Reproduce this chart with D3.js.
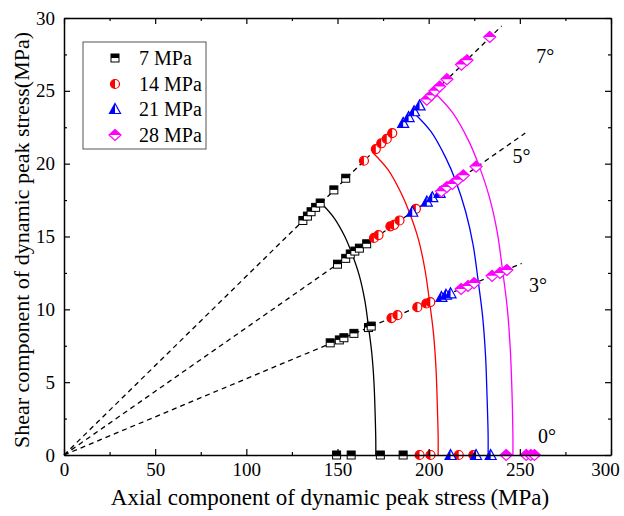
<!DOCTYPE html>
<html><head><meta charset="utf-8">
<script src="https://cdn.jsdelivr.net/npm/d3@7"></script>
<style>body{margin:0;background:#fff}svg{display:block}text{font-family:"Liberation Serif","Times New Roman",serif}</style>
</head><body><svg id="c" width="624" height="516"></svg>
<script>
// ---- data (axial MPa, shear MPa) ----
const seriesNames = ["7 MPa","14 MPa","21 MPa","28 MPa"];
const seriesColors = ["#000000","#ff0000","#0000ff","#ff00ff"];
const pts7 = [[131,16.1],[133.5,16.4],[135.5,16.7],[138,17.0],[140.5,17.3],[148,18.2],[154.5,19.0],
  [150,13.1],[154.5,13.5],[157,13.8],[159.5,14.0],[162,14.2],[166,14.5],
  [146,7.7],[151,7.9],[153.5,8.05],[159,8.35],[167,8.75],[168.5,8.85],
  [149.5,0],[157.5,0],[173.5,0],[186,0]];
const pts14 = [[164.5,20.2],[171,21.0],[174,21.4],[177,21.7],[180,22.1],
  [170,14.9],[172.5,15.1],[179,15.7],[181,15.8],[184,16.1],[193,16.9],
  [179.6,9.4],[182.9,9.6],[193.8,10.15],[198.7,10.4],[200.9,10.5],
  [195,0],[201,0],[216.5,0],[224.5,0]];
const pts21 = [[186,22.8],[189,23.2],[192,23.6],[195,24.0],
  [191,16.7],[199,17.4],[202,17.7],[206,18.0],
  [207,10.85],[209.5,11.0],[212,11.1],
  [212,0],[226,0],[234,0]];
const pts28 = [[199,24.4],[201.5,24.7],[203.5,25.0],[206,25.3],[210,25.8],[218,26.8],[221,27.1],[233.5,28.7],
  [207,18.1],[210,18.4],[213,18.6],[216,18.9],[219,19.2],[226,19.8],
  [217.8,11.4],[221.6,11.6],[224.9,11.8],[234.8,12.3],[239.1,12.5],[242.9,12.7],
  [242.5,0],[253.5,0],[256,0],[258,0]];
const curve7 = [[141,17.3],[148,16.3],[154,15.0],[158,13.8],[162,12.3],[165,10.6],[167,8.8],[168.8,7.0],[170,5.0],[170.6,3.0],[171,1.0],[171,0]];
const curve14 = [[169,20.8],[177.6,19.6],[184.8,18.0],[189.6,16.6],[194.4,14.8],[198,12.7],[200.4,10.6],[202.6,8.4],[204,6.0],[204.7,3.6],[205.2,1.2],[205.2,0]];
const curve21 = [[191.8,23.5],[201.3,22.2],[209.4,20.4],[214.9,18.8],[220.3,16.7],[224.4,14.4],[227.1,12.0],[229.6,9.5],[231.2,6.8],[232,4.1],[232.6,1.4],[232.6,0]];
const curve28 = [[203,24.9],[213.1,23.5],[221.8,21.6],[227.5,19.9],[233.3,17.7],[237.6,15.3],[240.5,12.7],[243.1,10.1],[244.8,7.2],[245.7,4.3],[246.2,1.4],[246.2,0]];
const rayLabels = ["3°","5°","7°"];
const rayEnds = [[251,13.15],[253,22.1],[240,29.45]];
const angleLabels = ["7°","5°","3°","0°"];
const angleLabelPos = [[259,27.4],[246,20.5],[255,11.7],[260,1.3]];
const xTicks = [0,25,50,75,100,125,150,175,200,225,250,275,300];
const yTicks = [0,2.5,5,7.5,10,12.5,15,17.5,20,22.5,25,27.5,30];

const svg = d3.select("#c");
const x = d3.scaleLinear().domain([0,300]).range([64,611]);
const y = d3.scaleLinear().domain([0,30]).range([455,18]);

// rays
const line = d3.line().x(d=>x(d[0])).y(d=>y(d[1]));
svg.append("g").selectAll("path").data(rayEnds).join("path")
  .attr("d", d=>line([[0,0],d])).attr("fill","none").attr("stroke","#000")
  .attr("stroke-width",1.3).attr("stroke-dasharray","5,4");

// curves
const curveLine = d3.line().x(d=>x(d[0])).y(d=>y(d[1])).curve(d3.curveCatmullRom);
[curve7,curve14,curve21,curve28].forEach((c,i)=>{
  svg.append("path").attr("d",curveLine(c)).attr("fill","none")
    .attr("stroke",seriesColors[i]).attr("stroke-width",1.3);
});

// markers
function marker(g, type, color){
  if(type===0){
    g.append("rect").attr("x",-4).attr("y",-4).attr("width",8).attr("height",8).attr("fill","#fff").attr("stroke",color).attr("stroke-width",1);
    g.append("rect").attr("x",-4).attr("y",-4).attr("width",8).attr("height",4).attr("fill",color);
  } else if(type===1){
    const r=4.5;
    g.append("circle").attr("r",r).attr("fill","#fff").attr("stroke",color).attr("stroke-width",1.2);
    g.append("path").attr("d",`M0,${-r}A${r},${r} 0 0 0 0,${r}Z`).attr("fill",color);
  } else if(type===2){
    g.append("path").attr("d","M0,-5.5L5.5,4.5L-5.5,4.5Z").attr("fill","#fff").attr("stroke",color).attr("stroke-width",1.2);
    g.append("path").attr("d","M0,-5.5L0,4.5L-5.5,4.5Z").attr("fill",color);
  } else {
    g.append("path").attr("d","M0,-5.5L6,0L0,5.5L-6,0Z").attr("fill","#fff").attr("stroke",color).attr("stroke-width",1.2);
    g.append("path").attr("d","M-6,0L0,-5.5L6,0Z").attr("fill",color);
  }
}
[pts7,pts14,pts21,pts28].forEach((pts,i)=>{
  svg.append("g").selectAll("g").data(pts).join("g")
    .attr("transform",d=>`translate(${x(d[0])},${y(d[1])})`)
    .each(function(){ marker(d3.select(this), i, seriesColors[i]); });
});

// axes
function styleAxis(g){
  g.select(".domain").attr("stroke-width",1.5);
  g.selectAll(".tick line").attr("stroke-width",1.2);
  g.selectAll("text").attr("font-size",19).attr("fill","#000");
}
const gx = svg.append("g").attr("transform","translate(0,455)")
  .call(d3.axisBottom(x).tickValues(xTicks).tickFormat(d=>d%50===0?d:"").tickSizeInner(-6).tickSizeOuter(0).tickPadding(8));
styleAxis(gx);
gx.selectAll(".tick").filter(d=>d%50!==0).select("line").attr("y2",-3);
gx.selectAll(".tick").filter(d=>d===300).select("text").attr("dx",-6);

const gt = svg.append("g").attr("transform","translate(0,18)")
  .call(d3.axisTop(x).tickValues(xTicks).tickFormat("").tickSizeInner(-6).tickSizeOuter(0));
styleAxis(gt);
gt.selectAll(".tick").filter(d=>d%50!==0).select("line").attr("y2",3);

const gy = svg.append("g").attr("transform","translate(64,0)")
  .call(d3.axisLeft(y).tickValues(yTicks).tickFormat(d=>d%5===0?d:"").tickSizeInner(-6).tickSizeOuter(0).tickPadding(9));
styleAxis(gy);
gy.selectAll(".tick").filter(d=>d%5!==0).select("line").attr("x2",3);

const gr = svg.append("g").attr("transform","translate(611,0)")
  .call(d3.axisRight(y).tickValues(yTicks).tickFormat("").tickSizeInner(-6).tickSizeOuter(0));
styleAxis(gr);
gr.selectAll(".tick").filter(d=>d%5!==0).select("line").attr("x2",-3);

// axis titles
svg.append("text").attr("x",330).attr("y",505).attr("text-anchor","middle").attr("font-size",23)
  .text("Axial component of dynamic peak stress\u2009(MPa)");
svg.append("text").attr("transform","translate(21,240) rotate(-90)").attr("dy","0.35em")
  .attr("text-anchor","middle").attr("font-size",22)
  .text("Shear component of dynamic peak stress(MPa)");

// angle labels
svg.append("g").selectAll("text").data(angleLabelPos).join("text")
  .attr("x",d=>x(d[0])).attr("y",d=>y(d[1])).attr("dy","0.35em").attr("font-size",20)
  .text((d,i)=>angleLabels[i]);

// legend
const lg = svg.append("g");
lg.append("rect").attr("x",83).attr("y",42).attr("width",123).attr("height",107)
  .attr("fill","#fff").attr("stroke","#555").attr("stroke-width",1);
const rows = [58,84,109,135];
seriesNames.forEach((n,i)=>{
  const g = lg.append("g").attr("transform",`translate(115,${rows[i]})`);
  marker(g, i, seriesColors[i]);
  lg.append("text").attr("x",139).attr("y",rows[i]).attr("dy","0.35em").attr("font-size",20).text(n);
});
</script></body></html>
